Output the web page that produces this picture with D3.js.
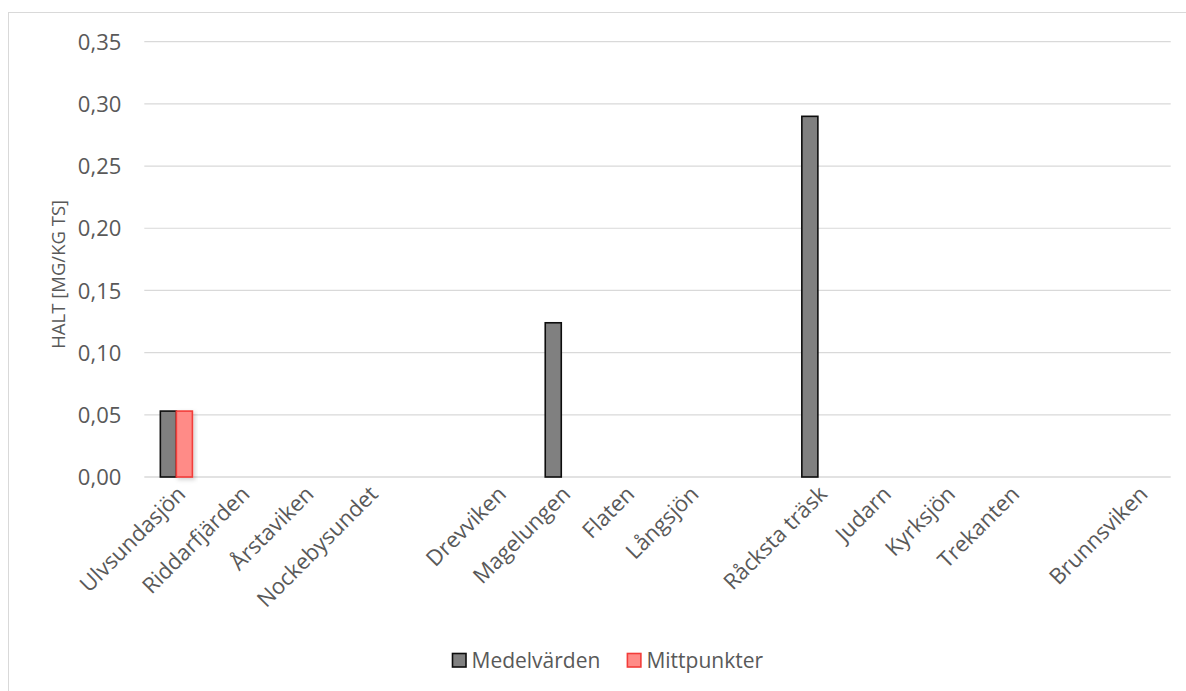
<!DOCTYPE html>
<html>
<head>
<meta charset="utf-8">
<script src="https://cdn.jsdelivr.net/npm/d3@7"></script>
<style>
  html, body { margin: 0; padding: 0; background: #fff; }
  svg { display: block; }
  text { font-family: "Open Sans", "Noto Sans", sans-serif; fill: #595959; }
</style>
</head>
<body>
<svg id="chart" width="1186" height="691"></svg>
<script>
const categories = ["Ulvsundasjön", "Riddarfjärden", "Årstaviken", "Nockebysundet", "",
  "Drevviken", "Magelungen", "Flaten", "Långsjön", "",
  "Råcksta träsk", "Judarn", "Kyrksjön", "Trekanten", "", "Brunnsviken"];
const medelvarden = [0.053, null, null, null, null, null, 0.124, null, null, null, 0.29, null, null, null, null, null];
const mittpunkter = [0.053, null, null, null, null, null, null, null, null, null, null, null, null, null, null, null];
const seriesNames = ["Medelvärden", "Mittpunkter"];
const yTicks = [0, 0.05, 0.10, 0.15, 0.20, 0.25, 0.30, 0.35];
const yTitle = "HALT [MG/KG TS]";

const svg = d3.select("#chart");
const W = 1186, H = 691;
const plot = { left: 144.3, right: 1170.7, top: 41.7, bottom: 477 };

// chart border
svg.append("rect").attr("x", 8.5).attr("y", 12.5).attr("width", W).attr("height", H)
  .attr("fill", "none").attr("stroke", "#d9d9d9").attr("stroke-width", 1);

const defs = svg.append("defs");
const f = defs.append("filter").attr("id", "shadow").attr("x", "-30%").attr("y", "-10%").attr("width", "160%").attr("height", "130%");
f.append("feDropShadow").attr("dx", 2).attr("dy", 2).attr("stdDeviation", 2).attr("flood-color", "#000").attr("flood-opacity", 0.18);

const x = d3.scaleBand().domain(d3.range(categories.length)).range([plot.left, plot.right]).padding(0);
const bw = x.bandwidth();
const x1 = d3.scaleBand().domain(seriesNames).range([bw / 4, bw * 3 / 4]).padding(0);
const y = d3.scaleLinear().domain([0, 0.35]).range([plot.bottom, plot.top]);

// gridlines
const grid = svg.append("g");
grid.selectAll("line").data(yTicks).join("line")
  .attr("x1", plot.left).attr("x2", plot.right)
  .attr("y1", d => y(d)).attr("y2", d => y(d))
  .attr("stroke", "#d9d9d9").attr("stroke-width", d => d === 0 ? 1.6 : 1.2);

// y axis labels
const yAxis = d3.axisLeft(y).tickValues(yTicks).tickSize(0).tickPadding(0)
  .tickFormat(d => d3.format(".2f")(d).replace(".", ","));
const gy = svg.append("g").attr("transform", `translate(${plot.left - 23},0)`).call(yAxis);
gy.select(".domain").remove();
gy.selectAll("text").style("font-size", "22px").attr("fill", "#595959").attr("dy", "0.35em");

// y title
svg.append("text")
  .attr("transform", `translate(65,${(plot.top + plot.bottom) / 2 + 15}) rotate(-90)`)
  .attr("text-anchor", "middle").style("font-size", "18.5px").text(yTitle);

// x axis labels
const xAxis = d3.axisBottom(x).tickSize(0).tickPadding(0).tickFormat(i => categories[i]);
const gx = svg.append("g").attr("transform", `translate(0,${plot.bottom})`).call(xAxis);
gx.select(".domain").remove();
gx.selectAll("text")
  .style("font-size", "22px").attr("fill", "#595959")
  .attr("text-anchor", "end")
  .attr("transform", "translate(5,13) rotate(-45)")
  .attr("dy", "0.35em").attr("y", 0).attr("x", 0);

// bars
const series = [
  { name: seriesNames[0], values: medelvarden, fill: "#808080", stroke: "#0d0d0d" },
  { name: seriesNames[1], values: mittpunkter, fill: "#ff8b87", stroke: "#f23d3a" }
];
series.forEach(s => {
  const data = s.values.map((v, i) => ({ i, v })).filter(d => d.v != null);
  svg.append("g").selectAll("rect").data(data).join("rect")
    .attr("x", d => x(d.i) + x1(s.name))
    .attr("width", x1.bandwidth())
    .attr("y", d => y(d.v))
    .attr("height", d => y(0) - y(d.v))
    .attr("fill", s.fill).attr("stroke", s.stroke).attr("stroke-width", 1.6)
    .attr("filter", s.name === "Mittpunkter" ? "url(#shadow)" : null);
});

// legend
const lg = svg.append("g");
let lx = 452.5;
const ly = 653.5;
series.forEach(s => {
  lg.append("rect").attr("x", lx).attr("y", ly).attr("width", 13.5).attr("height", 13.5)
    .attr("fill", s.fill).attr("stroke", s.stroke).attr("stroke-width", 1.6);
  const t = lg.append("text").attr("x", lx + 19).attr("y", ly + 14.5).style("font-size", "21px").text(s.name);
  lx += 19 + t.node().getComputedTextLength() + 27;
});
</script>
</body>
</html>
